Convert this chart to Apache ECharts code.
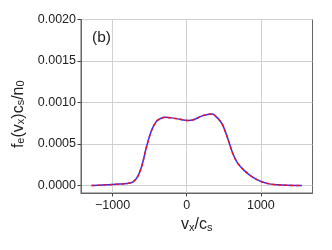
<!DOCTYPE html>
<html>
<head>
<meta charset="utf-8">
<script src="https://cdn.jsdelivr.net/npm/echarts@6/dist/echarts.min.js"></script>
<style>
  html, body { margin: 0; padding: 0; background: #fff; }
  #chart { width: 332px; height: 250px; }
</style>
</head>
<body>
<div id="chart"></div>
<script>
  // velocity axis (v_x / c_s)
  var vx = [-1284, -1100, -907, -800, -727, -660, -601, -547, -480, -412, -345, -280, -200, -121, -50, 23, 100, 216, 300, 350, 396, 440, 485, 553, 620, 687, 778, 890, 1003, 1115, 1226, 1350, 1555];
  // f_e(v_x) c_s / n_0
  var fe = [0, 0.000008, 0.000017, 0.000025, 0.00004, 0.00011, 0.00025, 0.00045, 0.00065, 0.00077, 0.00081, 0.000822, 0.000815, 0.000803, 0.00079, 0.000782, 0.000795, 0.000842, 0.00086, 0.000862, 0.00083, 0.00079, 0.00073, 0.00057, 0.00039, 0.00027, 0.00018, 0.0001, 0.000048, 0.00002, 0.000008, 0.000002, 0];
  var xTicks = [-1000, 0, 1000];
  var yTicks = [0, 0.0005, 0.001, 0.0015, 0.002];

  var pts = vx.map(function (v, i) { return [v, fe[i]]; });

  var chart = echarts.init(document.getElementById('chart'));
  var font = 'Liberation Sans';
  var nameRich = {
    b: { fontSize: 16, color: '#222', fontFamily: font, lineHeight: 20, verticalAlign: 'bottom' },
    s: { fontSize: 11, color: '#222', fontFamily: font, lineHeight: 16, verticalAlign: 'bottom' }
  };
  var option = {
    animation: false,
    textStyle: { fontFamily: font },
    grid: {
      left: 81, top: 19.5, right: 19.5, bottom: 57,
      show: true, borderColor: '#666', borderWidth: 1
    },
    xAxis: {
      type: 'value',
      min: -1426, max: 1697,
      name: '{b|v}{s|x}{b|/c}{s|s}',
      nameLocation: 'middle',
      nameGap: 20,
      nameTextStyle: { rich: nameRich },
      axisLine: { onZero: false, lineStyle: { color: '#666' } },
      axisTick: { customValues: xTicks, length: 3.5, lineStyle: { color: '#444' } },
      axisLabel: { customValues: xTicks, color: '#222', fontSize: 12.5, margin: 6,
        formatter: function (v) { return v < 0 ? '\u2212' + (-v) : String(v); } },
      splitLine: { show: true, customValues: xTicks, lineStyle: { color: '#d0d0d0' } }
    },
    yAxis: {
      type: 'value',
      min: -0.00009, max: 0.002,
      name: '{b|f}{s|e}{b|(v}{s|x}{b|)c}{s|s}{b|/n}{s|0}',
      nameLocation: 'middle',
      nameGap: 46,
      nameTextStyle: { rich: nameRich, padding: [0, 16, 0, 0] },
      axisLine: { show: true, onZero: false, lineStyle: { color: '#666' } },
      axisTick: { show: true, customValues: yTicks, length: 3.5, lineStyle: { color: '#444' } },
      axisLabel: { customValues: yTicks, color: '#222', fontSize: 12.5, margin: 5,
        formatter: function (v) { return v.toFixed(4); } },
      splitLine: { show: true, customValues: yTicks, lineStyle: { color: '#d0d0d0' } }
    },
    graphic: [{
      type: 'text', left: 92, top: 30,
      style: { text: '(b)', fontSize: 15.5, fontFamily: font, fill: '#222' }
    }],
    series: [{
      type: 'line', data: pts, smooth: 0.3, symbol: 'none',
      lineStyle: { color: '#3030ff', width: 1.5 }
    }, {
      type: 'line', data: pts, smooth: 0.3, symbol: 'none',
      lineStyle: { color: '#ff1010', width: 1.5, type: [3, 3] }
    }]
  };
  chart.setOption(option);
</script>
</body>
</html>
